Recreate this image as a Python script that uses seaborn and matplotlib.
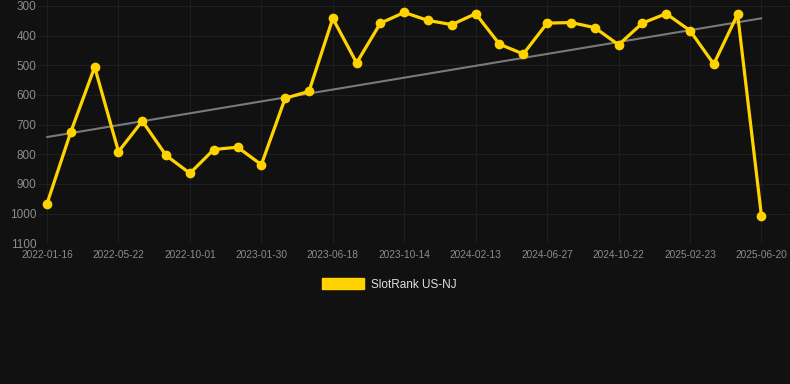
import numpy as np
import pandas as pd
import matplotlib
matplotlib.use("Agg")
import matplotlib.pyplot as plt
import seaborn as sns
from matplotlib.patches import Patch

# Data (rank, lower is better -> inverted axis)
dates = ["2022-01-16", "2022-02-28", "2022-04-10", "2022-05-22", "2022-07-05",
         "2022-08-18", "2022-10-01", "2022-11-10", "2022-12-20", "2023-01-30",
         "2023-03-15", "2023-05-01", "2023-06-18", "2023-07-30", "2023-09-01",
         "2023-10-14", "2023-11-25", "2024-01-02", "2024-02-13", "2024-03-28",
         "2024-05-12", "2024-06-27", "2024-08-10", "2024-09-15", "2024-10-22",
         "2024-12-05", "2025-01-14", "2025-02-23", "2025-04-05", "2025-05-15",
         "2025-06-20"]
ranks = [966, 724, 506, 791, 688, 804, 864, 784, 776, 835,
         611, 588, 342, 492, 358, 322, 349, 363, 326, 429,
         462, 358, 356, 373, 431, 358, 326, 383, 496, 328,
         1007]
series_name = "SlotRank US-NJ"

df = pd.DataFrame({"idx": range(len(dates)), "date": dates, "rank": ranks})

bg = "#111111"
gold = "#FFD300"

sns.set_theme(style="dark")
plt.rcParams["font.family"] = ["Liberation Sans", "DejaVu Sans"]

fig = plt.figure(figsize=(7.9, 3.84), dpi=100, facecolor=bg)
ax = fig.add_axes([38 / 790, (384 - 243.3) / 384, (790 - 38) / 790, 243.3 / 384])
ax.set_facecolor(bg)

# trend line (linear fit)
coef = np.polyfit(df["idx"], df["rank"], 1)
trend = np.polyval(coef, df["idx"])
ax.plot(df["idx"], trend, color="#7a7a7a", linewidth=1.5, zorder=2)

sns.lineplot(data=df, x="idx", y="rank", ax=ax, color=gold, linewidth=2.3,
             marker="o", markersize=7, markeredgewidth=0, zorder=3)

ax.set_xlim(-0.38, 31.2)
ax.set_ylim(1100, 280)
ax.set_yticks([300, 400, 500, 600, 700, 800, 900, 1000, 1100])
ax.set_xticks(df["idx"][::3])
ax.set_xticklabels(df["date"][::3])
ax.set_xlabel("")
ax.set_ylabel("")

ax.grid(True, color="#1f1f1f", linewidth=0.8)
for s in ax.spines.values():
    s.set_visible(False)
ax.tick_params(axis="y", labelsize=8.5, colors="#8c8c8c", length=0, pad=1)
ax.tick_params(axis="x", labelsize=7.3, colors="#8c8c8c", length=0, pad=5)

fig.legend(handles=[Patch(facecolor=gold, edgecolor=gold)], labels=[series_name],
           loc="center", bbox_to_anchor=(0.493, 0.26), frameon=False,
           fontsize=8.5, labelcolor="#e0e0e0", handlelength=3.6,
           handleheight=1.1, handletextpad=0.6)

fig.savefig("out.png", dpi=100, facecolor=bg)
